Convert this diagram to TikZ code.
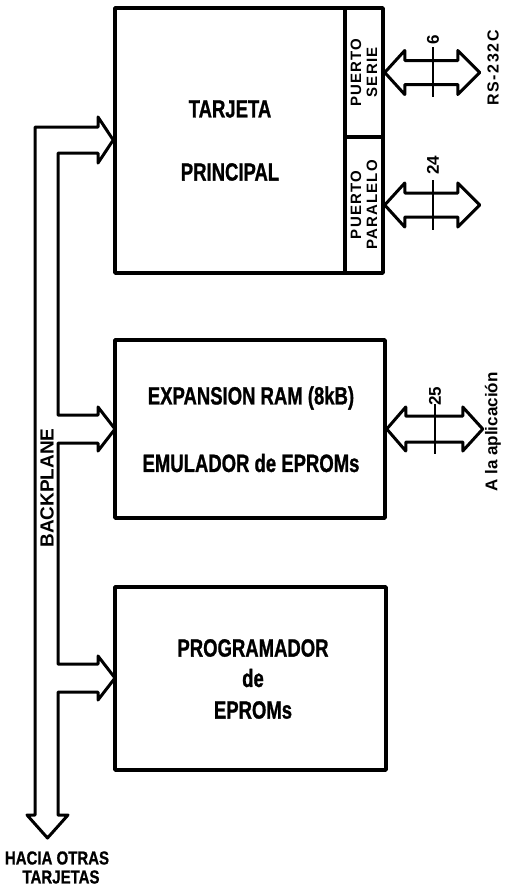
\documentclass[tikz,border=0pt]{standalone}
\usepackage{fontspec}
\setmainfont{Liberation Sans}
\newcommand{\tall}[1]{\scalebox{1}[1.35]{#1}}

\begin{document}
\begin{tikzpicture}[x=1pt, y=-1pt, line join=round,
	box/.style={draw, line width=3.5pt, inner sep=0pt},
	bus/.style={draw, line width=3pt},
	tick/.style={line width=2pt},
	title/.style={font=\bfseries\fontsize{18.5}{20}\selectfont\addfontfeatures{FakeBold=1.2}},
	small/.style={font=\bfseries\fontsize{15}{16}\selectfont\addfontfeatures{LetterSpace=8}, rotate=90, align=center},
	num/.style={font=\bfseries\fontsize{17}{19}\selectfont, rotate=90}]
	\useasboundingbox (0,0) rectangle (504,886);
	% tarjeta principal with its two ports
	\node[box, minimum width=230pt, minimum height=265pt] (cpu) at (230,140.5) {};
	\node[box, minimum width=38pt, minimum height=129pt] (serie) at (364,72.5) {};
	\node[box, minimum width=38pt, minimum height=136pt] (paralelo) at (364,205) {};
	\node[title] (t1) at (230,109) {\tall{TARJETA}};
	\node[title] (t2) at (230,172) {\tall{PRINCIPAL}};
	\node[small] (ps) at (serie.center) {PUERTO\\SERIE};
	\node[small] (pp) at (paralelo.center) {PUERTO\\PARALELO};
	% expansion RAM
	\node[box, minimum width=270pt, minimum height=178pt] (ram) at (250,429) {};
	\node[title] (r1) at (251,398) {\tall{EXPANSION RAM (8kB)}};
	\node[title] (r2) at (251,463) {\tall{EMULADOR de EPROMs}};
	% programador
	\node[box, minimum width=271pt, minimum height=183pt] (prog) at (250.5,678.5) {};
	\node[title] (p1) at (253,648) {\tall{PROGRAMADOR}};
	\node[title] (p2) at (253,678) {\tall{de}};
	\node[title] (p3) at (253,710) {\tall{EPROMs}};
	% buses to the outside
	\draw[bus] (serie.east) -- ++(20,-22) -- ++(0,10) -- ++(53,0) -- ++(0,-10) -- ++(22,22)
		-- ++(-22,22) -- ++(0,-10) -- ++(-53,0) -- ++(0,10) -- cycle;
	\draw[bus] (paralelo.east) -- ++(20,-22) -- ++(0,10) -- ++(53,0) -- ++(0,-10) -- ++(22,22)
		-- ++(-22,22) -- ++(0,-10) -- ++(-53,0) -- ++(0,10) -- cycle;
	\draw[bus] (ram.east) -- ++(19,-22) -- ++(0,9) -- ++(57,0) -- ++(0,-9) -- ++(20,22)
		-- ++(-20,22) -- ++(0,-9) -- ++(-57,0) -- ++(0,9) -- cycle;
	\draw[tick] (433,47) -- (433,97);
	\draw[tick] (433,180) -- (433,230);
	\draw[tick] (435,404) -- (435,454);
	\node[num] (n6) at (433,40) {6};
	\node[num] (n24) at (433,165) {24};
	\node[num] (n25) at (435,396) {25};
	\node[num, font=\bfseries\fontsize{16}{18}\selectfont\addfontfeatures{LetterSpace=10}] (rs) at (493,68) {RS-232C};
	\node[num, font=\bfseries\fontsize{17}{19}\selectfont] (apl) at (493,432) {A la aplicación};
	% backplane
	\draw[bus] (27,815) -- (35,815) -- (35,127) -- (98,127) -- (98,117) -- (cpu.west |- 0,140)
		-- (98,163) -- (98,153) -- (58,153) -- (58,415) -- (98,415) -- (98,407) -- (115,429)
		-- (98,451) -- (98,443) -- (58,443) -- (58,664) -- (98,664) -- (98,656) -- (115,678)
		-- (98,700) -- (98,692) -- (58,692) -- (58,815) -- (68,815) -- (47.5,838) -- cycle;
	\node[small, font=\bfseries\fontsize{19}{21}\selectfont] (bp) at (47,488) {BACKPLANE};
	\node[font=\bfseries\fontsize{15}{16}\selectfont\addfontfeatures{FakeBold=1}] (h1) at (57,858) {\scalebox{1}[1.25]{HACIA OTRAS}};
	\node[font=\bfseries\fontsize{15}{16}\selectfont\addfontfeatures{FakeBold=1}] (h2) at (61,877) {\scalebox{1}[1.25]{TARJETAS}};
\end{tikzpicture}
\end{document}
